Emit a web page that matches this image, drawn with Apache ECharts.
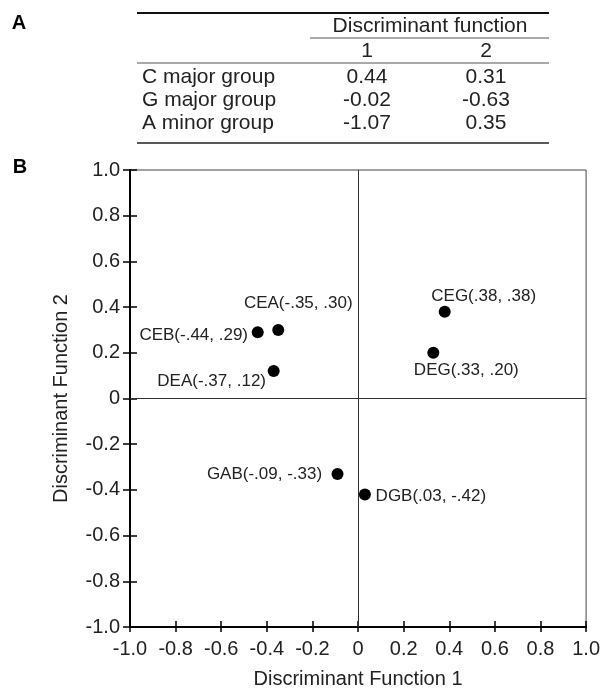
<!DOCTYPE html>
<html>
<head>
<meta charset="utf-8">
<script src="https://cdn.jsdelivr.net/npm/echarts@6/dist/echarts.min.js"></script>
<style>html,body{margin:0;padding:0;background:#fff;}#c{width:603px;height:694px;}</style>
</head>
<body>
<div id="c"></div>
<script>
// ---- data ----
const categories = ['CEG', 'DEG', 'CEA', 'CEB', 'DEA', 'GAB', 'DGB'];
const fn1 = [0.38, 0.33, -0.35, -0.44, -0.37, -0.09, 0.03];
const fn2 = [0.38, 0.20, 0.30, 0.29, 0.12, -0.33, -0.42];
const tickLabels = ['-1.0', '-0.8', '-0.6', '-0.4', '-0.2', '0', '0.2', '0.4', '0.6', '0.8', '1.0'];
const tableHeader = 'Discriminant function';
const tableCols = ['1', '2'];
const tableGroups = ['C major group', 'G major group', 'A minor group'];
const tableFn1 = ['0.44', '-0.02', '-1.07'];
const tableFn2 = ['0.31', '-0.63', '0.35'];

// ---- styles / placement ----
const FONT = "'Liberation Sans', Arial, sans-serif";
const TXT = '#222';
const labelOffsets = {
  CEG: [39, -15], DEG: [33, 18], CEA: [20, -27], CEB: [-64, 3],
  DEA: [-62, 10], GAB: [-73, 0], DGB: [66, 2]
};
function shortNum(v) {
  return v.toFixed(2).replace('0.', '.');
}
function tickFmt(v) {
  return tickLabels[Math.round((v + 1) / 0.2)];
}

const chart = echarts.init(document.getElementById('c'), null, {renderer: 'canvas'});

const graphics = [];
function txt(x, y, s, opts) {
  graphics.push({
    type: 'text', x: x, y: y, silent: true,
    style: Object.assign({
      text: s, fill: TXT, font: '21px ' + FONT,
      textAlign: 'left', textVerticalAlign: 'middle'
    }, opts || {})
  });
}
function hline(x1, x2, y, w, c) {
  graphics.push({
    type: 'line', silent: true,
    shape: {x1: x1, y1: y, x2: x2, y2: y},
    style: {stroke: c, lineWidth: w}
  });
}
// panel letters
txt(19, 23, 'A', {font: 'bold 20px ' + FONT, textAlign: 'center', fill: '#000'});
txt(20, 167, 'B', {font: 'bold 20px ' + FONT, textAlign: 'center', fill: '#000'});
// table rules
hline(137, 549, 13, 2, '#111');
hline(310, 549, 38, 1, '#555');
hline(137, 549, 63, 1, '#555');
hline(137, 549, 143, 1.5, '#222');
// table text
const col1X = 367, col2X = 486;
txt(430, 26, tableHeader, {textAlign: 'center'});
txt(col1X, 51, tableCols[0], {textAlign: 'center'});
txt(col2X, 51, tableCols[1], {textAlign: 'center'});
const rowY = [77, 100, 123];
tableGroups.forEach((g, i) => {
  txt(142, rowY[i], g);
  txt(col1X, rowY[i], tableFn1[i], {textAlign: 'center'});
  txt(col2X, rowY[i], tableFn2[i], {textAlign: 'center'});
});

const axisCommon = {
  type: 'value', min: -1, max: 1, interval: 0.2,
  splitLine: {show: false}
};

const option = {
  animation: false,
  backgroundColor: '#fff',
  textStyle: {fontFamily: FONT},
  grid: {left: 130, right: 14, top: 170, bottom: 66, show: true,
         borderColor: '#444', borderWidth: 1, backgroundColor: 'transparent'},
  xAxis: [
    Object.assign({}, axisCommon, {
      position: 'bottom',
      name: 'Discriminant Function 1', nameLocation: 'middle', nameGap: 42,
      nameTextStyle: {fontSize: 20, color: TXT, fontFamily: FONT},
      axisLine: {show: true, onZero: false, lineStyle: {color: '#000', width: 2}},
      axisTick: {show: true, inside: false, length: 5, lineStyle: {color: '#000', width: 1.5}},
      axisLabel: {show: true, margin: 12, fontSize: 20, color: TXT, fontFamily: FONT, formatter: tickFmt}
    }),
    Object.assign({}, axisCommon, {
      position: 'bottom',
      axisLine: {show: false, onZero: false},
      axisTick: {show: true, inside: true, length: 6, lineStyle: {color: '#000', width: 1.5}},
      axisLabel: {show: false}
    })
  ],
  yAxis: [
    Object.assign({}, axisCommon, {
      position: 'left',
      name: 'Discriminant Function 2', nameLocation: 'middle', nameGap: 59,
      nameTextStyle: {fontSize: 20, color: TXT, fontFamily: FONT},
      axisLine: {show: true, onZero: false, lineStyle: {color: '#000', width: 2}},
      axisTick: {show: true, inside: false, length: 7, lineStyle: {color: '#000', width: 1.5}},
      axisLabel: {show: true, margin: 10, fontSize: 20, color: TXT, fontFamily: FONT, formatter: tickFmt}
    }),
    Object.assign({}, axisCommon, {
      position: 'left',
      axisLine: {show: false, onZero: false},
      axisTick: {show: true, inside: true, length: 7, lineStyle: {color: '#000', width: 1.5}},
      axisLabel: {show: false}
    })
  ],
  graphic: graphics,
  series: [{
    type: 'scatter',
    xAxisIndex: 0, yAxisIndex: 0,
    symbol: 'circle', symbolSize: 12,
    itemStyle: {color: '#000', opacity: 1},
    label: {
      show: true, position: 'inside', fontSize: 17, color: TXT, fontFamily: FONT,
      formatter: p => p.name + '(' + shortNum(p.value[0]) + ', ' + shortNum(p.value[1]) + ')'
    },
    data: categories.map((c, i) => ({
      name: c, value: [fn1[i], fn2[i]],
      label: {offset: labelOffsets[c]}
    })),
    markLine: {
      silent: true, symbol: 'none', animation: false,
      label: {show: false},
      lineStyle: {color: '#333', width: 1, type: 'solid'},
      data: [{xAxis: 0}, {yAxis: 0}]
    }
  }]
};
chart.setOption(option);
</script>
</body>
</html>
